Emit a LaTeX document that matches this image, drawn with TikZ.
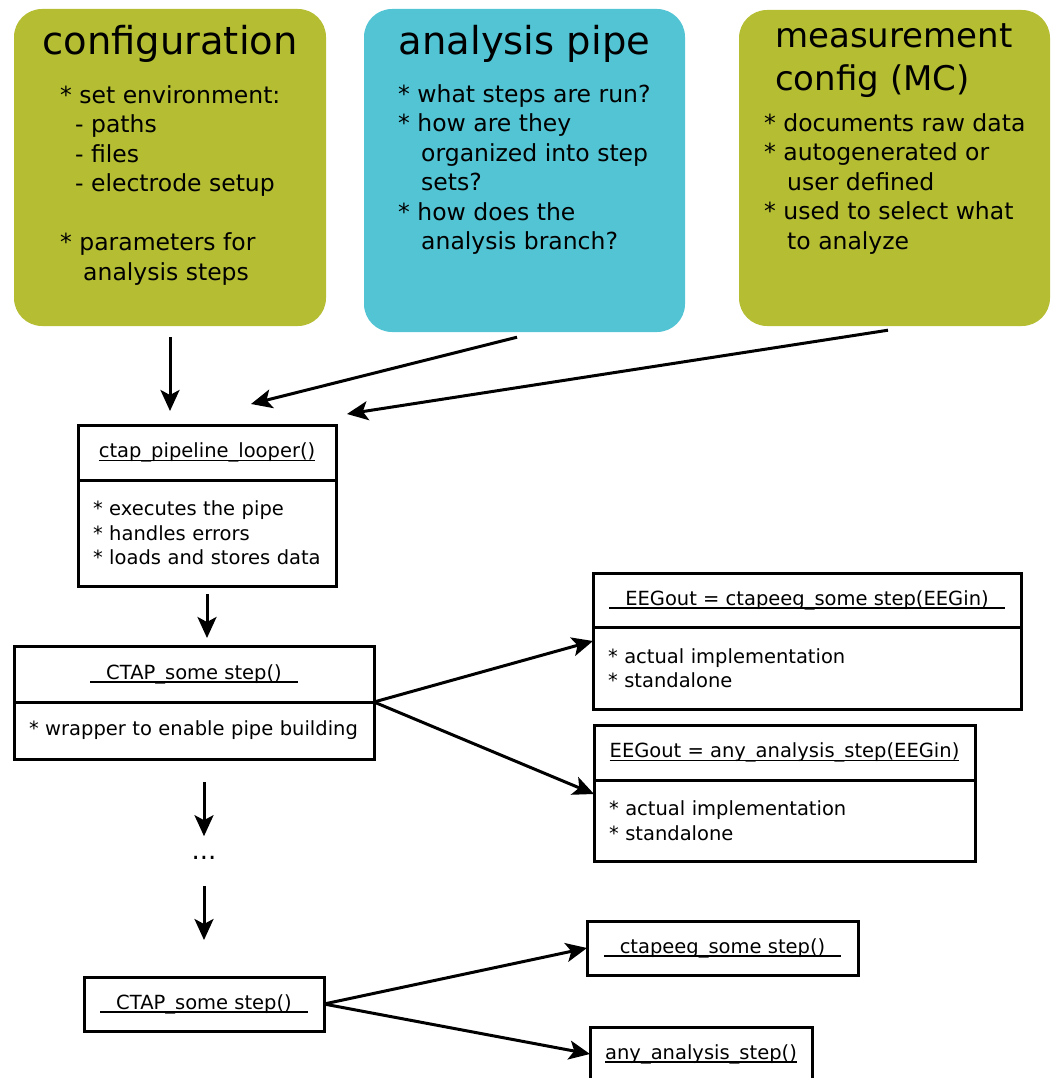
\documentclass[tikz,border=0pt]{standalone}
\usepackage{fontspec}
\setmainfont{DejaVu Sans}
\usetikzlibrary{positioning,arrows.meta,calc}
\definecolor{confgreen}{RGB}{181,189,51}
\definecolor{pipeblue}{RGB}{82,196,212}
\newcommand{\ulname}[1]{\setbox0\hbox{#1}\rlap{\raisebox{-3.5pt}[0pt][0pt]{\rule{\wd0}{1.3pt}}}\box0}

\begin{document}
\begin{tikzpicture}[x=1pt, y=-1pt,
                    arr/.style={-{Stealth[length=21pt,width=19pt,inset=5pt]}, line width=3pt}]
    \tikzstyle{topbox}=[rectangle, rounded corners=28pt, inner sep=0pt]
    \tikzstyle{headtext}=[font=\fontsize{38.5}{43}\selectfont, inner sep=0pt]
    \tikzstyle{bodytext}=[font=\fontsize{23.5}{29.5}\selectfont, align=left, inner sep=0pt]
    \tikzstyle{umlpart}=[draw, line width=3pt, outer sep=0pt, inner sep=0pt, font=\fontsize{19.5}{24.5}\selectfont]
    \tikzstyle{umlbody}=[umlpart, align=left, inner xsep=15pt]

    \useasboundingbox (0,0) rectangle (1052,1078);

    % top: configuration, analysis pipe, measurement config
    \node[topbox, fill=confgreen, minimum width=312pt, minimum height=317pt] (conf) at (170,167.5) {};
    \node[topbox, fill=pipeblue, minimum width=321pt, minimum height=323pt] (pipe) at (524.5,170.5) {};
    \node[topbox, fill=confgreen, minimum width=311pt, minimum height=316pt] (mc) at (894.5,168) {};

    \node[headtext, anchor=base] (conftitle) at (170,55) {configuration};
    \node[headtext, anchor=base] (pipetitle) at (524.5,55) {analysis pipe};
    % base = last line for these
    \node[headtext, font=\fontsize{34}{43}\selectfont, align=left, anchor=base west] (mctitle) at (775,91) {measurement\\config (MC)};

    \node[bodytext, anchor=base west] (conftext) at (60,280) {{*} set environment:\\\hspace*{15pt}- paths\\\hspace*{15pt}- files\\\hspace*{15pt}- electrode setup\\[29.5pt]{*} parameters for\\\hspace*{23pt}analysis steps};
    \node[bodytext, anchor=base west] (pipetext) at (398,249.5) {{*} what steps are run?\\{*} how are they\\\hspace*{23pt}organized into step\\\hspace*{23pt}sets?\\{*} how does the\\\hspace*{23pt}analysis branch?};
    \node[bodytext, anchor=base west] (mctext) at (764,249) {{*} documents raw data\\{*} autogenerated or\\\hspace*{23pt}user defined\\{*} used to select what\\\hspace*{23pt}to analyze};

    \coordinate (confin) at (170,411);
    \coordinate (pipein) at (251,404);
    \coordinate (mcin) at (347,414);
    \draw[arr, shorten <=11pt] (conf.south) -- (confin);
    \draw[arr] ($(pipe.south)+(-7.5,5)$) -- (pipein);
    \draw[arr] ($(mc.south)+(-6.5,4)$) -- (mcin);

    % looper and the step functions
    \node[umlpart, minimum width=258pt, minimum height=55pt] (looperhead) at (207,452.5) {\ulname{ctap\_pipeline\_looper()}};
    \node[umlbody, below=0pt of looperhead, minimum width=258pt, minimum height=106pt, text width=228pt] (looperbody) {{*} executes the pipe\\{*} handles errors\\{*} loads and stores data};

    \node[umlpart, minimum width=360pt, minimum height=56pt] (ctapAhead) at (194,674) {\ulname{\hspace{16pt}CTAP\_some step()\hspace{16pt}}};
    \node[umlbody, below=0pt of ctapAhead, minimum width=360pt, minimum height=57pt, text width=330pt] (ctapAbody) {{*} wrapper to enable pipe building};

    \node[umlpart, minimum width=428pt, minimum height=54pt] (eegAhead) at (807,600) {\ulname{\hspace{16pt}EEGout = ctapeeg\_some step(EEGin)\hspace{16pt}}};
    \node[umlbody, below=0pt of eegAhead, minimum width=428pt, minimum height=82pt, text width=398pt] (eegAbody) {{*} actual implementation\\{*} standalone};

    \node[umlpart, minimum width=381pt, minimum height=55pt] (eegBhead) at (784.5,752.5) {\ulname{EEGout = any\_analysis\_step(EEGin)}};
    \node[umlbody, below=0pt of eegBhead, minimum width=381pt, minimum height=81pt, text width=351pt] (eegBbody) {{*} actual implementation\\{*} standalone};

    \draw[arr, shorten <=8pt, shorten >=8pt] (looperbody.south) -- (looperbody.south |- ctapAhead.north);
    \draw[arr] (ctapAhead.south east) -- ($(eegAbody.north west)+(0,14)$);
    \draw[arr] (ctapAhead.south east) -- ($(eegBbody.north west)+(0,14)$);

    \node[font=\fontsize{26}{30}\selectfont, inner sep=0pt] (dots) at (204,858) {...};
    \draw[arr, shorten <=23pt, shorten >=20pt] (dots |- ctapAbody.south) -- (dots.north);
    \draw[arr, shorten <=26pt, shorten >=37pt] (dots.south) -- (dots |- 0,977);

    % short form
    \node[umlpart, minimum width=240pt, minimum height=54pt] (ctapB) at (204,1004) {\ulname{\hspace{16pt}CTAP\_some step()\hspace{16pt}}};
    \node[umlpart, minimum width=271pt, minimum height=54pt] (eegC) at (722.5,948) {\ulname{\hspace{16pt}ctapeeg\_some step()\hspace{16pt}}};
    \node[umlpart, minimum width=222pt, minimum height=54pt] (eegD) at (701,1054) {\ulname{any\_analysis\_step()}};
    \draw[arr] (ctapB.east) -- (eegC.west);
    \draw[arr] (ctapB.east) -- (eegD.west);
\end{tikzpicture}
\end{document}
